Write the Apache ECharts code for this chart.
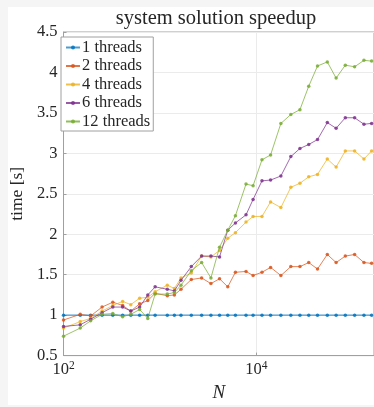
<!DOCTYPE html>
<html>
<head>
<meta charset="utf-8">
<script src="https://cdn.jsdelivr.net/npm/echarts@6/dist/echarts.min.js"></script>
<style>
  html, body { margin: 0; padding: 0; background: #f5f5f5; }
  #paper { position: absolute; left: 8px; top: 7px; width: 366px; height: 398px; background: #fff; }
  #chart { position: absolute; left: 0; top: 0; width: 374px; height: 407px; }
</style>
</head>
<body>
<div id="paper"></div>
<div id="chart"></div>
<script>
// problem size N
const sizes = [100, 149, 191, 251, 324, 410, 498, 615, 747, 890, 1190, 1410, 1650, 2110, 2700, 3370,
  4140, 5040, 6050, 7790, 9220, 11400, 14000, 17900, 22700, 28200, 34800, 42900, 54200, 66900,
  83300, 104000, 130000, 156000];

const threads1 = [1, 1, 1, 1, 1, 1, 1, 1, 1, 1, 1, 1, 1, 1, 1, 1, 1, 1, 1, 1, 1, 1, 1, 1, 1, 1, 1,
  1, 1, 1, 1, 1, 1, 1];
const threads2 = [0.94, 1.01, 0.99, 1.10, 1.16, 1.12, 1.05, 1.14, 1.18, 1.27, 1.24, 1.25, 1.32, 1.44,
  1.46, 1.39, 1.45, 1.35, 1.53, 1.54, 1.49, 1.53, 1.59, 1.49, 1.60, 1.60, 1.65, 1.57, 1.75, 1.65,
  1.73, 1.75, 1.65, 1.64];
const threads4 = [0.84, 0.92, 0.96, 1.05, 1.12, 1.17, 1.13, 1.21, 1.22, 1.29, 1.37, 1.33, 1.46, 1.52,
  1.73, 1.72, 1.80, 1.95, 2.02, 2.15, 2.22, 2.22, 2.40, 2.33, 2.58, 2.63, 2.71, 2.74, 2.93, 2.83,
  3.03, 3.03, 2.93, 3.03];
const threads6 = [0.86, 0.88, 0.95, 1.03, 1.10, 1.10, 1.05, 1.10, 1.25, 1.35, 1.32, 1.30, 1.43, 1.60,
  1.73, 1.73, 1.72, 2.05, 2.14, 2.24, 2.43, 2.66, 2.67, 2.72, 2.96, 3.06, 3.11, 3.17, 3.38, 3.31,
  3.44, 3.44, 3.36, 3.37];
const threads12 = [0.74, 0.84, 0.93, 1.01, 1.02, 0.98, 1.01, 1.07, 0.96, 1.26, 1.26, 1.28, 1.37, 1.55,
  1.65, 1.46, 1.84, 2.05, 2.23, 2.62, 2.60, 2.92, 2.98, 3.37, 3.48, 3.54, 3.83, 4.08, 4.13, 3.93,
  4.09, 4.07, 4.15, 4.14];

const seriesNames = ['1 threads', '2 threads', '4 threads', '6 threads', '12 threads'];
const seriesColors = ['#0072BD', '#D95319', '#EDB120', '#7E2F8E', '#77AC30'];
const yTicks = [0.5, 1, 1.5, 2, 2.5, 3, 3.5, 4, 4.5];

const serif = 'Liberation Serif';
const axisGray = '#a0a0a0';
const textColor = '#262626';

// x axis is log10(N) on a value axis so the ticks can sit every two decades
function toPoints(values) {
  return values.map((v, i) => [Math.log10(sizes[i]), v]);
}

function getOption() {
  const allSeries = [threads1, threads2, threads4, threads6, threads12];
  return {
    backgroundColor: 'transparent',
    animation: false,
    title: {
      text: 'system solution speedup',
      left: 216,
      top: 8,
      padding: 0,
      textAlign: 'center',
      textStyle: { fontFamily: serif, fontSize: 20.5, fontWeight: 'normal', color: textColor },
    },
    legend: {
      orient: 'vertical',
      left: 61,
      top: 37,
      padding: [2, 3, 1, 4],
      itemGap: 1.5,
      itemWidth: 14,
      itemHeight: 5,
      backgroundColor: '#fff',
      borderColor: axisGray,
      borderWidth: 1,
      borderRadius: 0,
      textStyle: { fontFamily: serif, fontSize: 16.5, color: textColor, padding: [0, 0, 0, -3] },
      data: seriesNames,
    },
    grid: {
      show: true,
      left: 59,
      top: 32,
      right: -2,
      bottom: 43,
      borderColor: axisGray,
      borderWidth: 1,
      containLabel: false,
    },
    xAxis: {
      type: 'value',
      min: 2,
      max: 5.218,
      interval: 2,
      name: 'N',
      nameLocation: 'middle',
      nameGap: 24,
      nameTextStyle: { fontFamily: serif, fontSize: 19, fontStyle: 'italic', color: textColor },
      axisLine: { lineStyle: { color: axisGray, width: 1 } },
      axisTick: { show: true, inside: true, length: 3, lineStyle: { color: axisGray } },
      splitLine: { show: true, lineStyle: { color: '#ebebeb', width: 1 } },
      axisLabel: {
        margin: 4,
        showMaxLabel: false,
        formatter: (v) => (Math.abs(v - Math.round(v)) < 1e-6 ? '{b|10}{s|' + Math.round(v) + '}' : ''),
        rich: {
          b: { fontFamily: serif, fontSize: 16.5, color: textColor },
          s: { fontFamily: serif, fontSize: 11.5, color: textColor, padding: [0, 0, 8, 0] },
        },
      },
    },
    yAxis: {
      type: 'value',
      min: yTicks[0],
      max: yTicks[yTicks.length - 1],
      interval: 0.5,
      name: 'time [s]',
      nameLocation: 'middle',
      nameGap: 34,
      nameTextStyle: { fontFamily: serif, fontSize: 17.5, color: textColor },
      axisLine: { show: true, lineStyle: { color: axisGray, width: 1 } },
      axisTick: { show: true, inside: true, length: 3, lineStyle: { color: axisGray } },
      splitLine: { show: true, lineStyle: { color: '#ebebeb', width: 1 } },
      axisLabel: { margin: 6, fontFamily: serif, fontSize: 16.5, color: textColor },
    },
    series: allSeries.map((values, k) => ({
      name: seriesNames[k],
      type: 'line',
      data: toPoints(values),
      color: seriesColors[k],
      symbol: 'circle',
      symbolSize: 3.5,
      showSymbol: true,
      lineStyle: { width: k === 0 ? 1.4 : 0.9, opacity: k === 0 ? 0.7 : 0.8 },
      itemStyle: { opacity: 0.85 },
      z: 2 + k,
    })),
  };
}

const myChart = echarts.init(document.getElementById('chart'));
myChart.setOption(getOption());
</script>
</body>
</html>
